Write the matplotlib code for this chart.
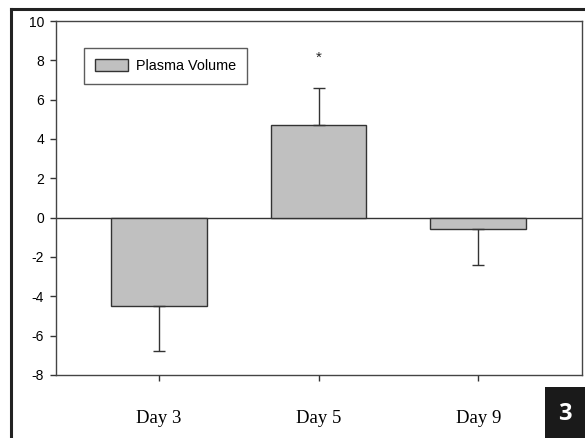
import matplotlib
matplotlib.use("Agg")
import matplotlib.pyplot as plt
from matplotlib.lines import Line2D
from matplotlib.patches import Rectangle

categories = ["Day 3", "Day 5", "Day 9"]
values = [-4.5, 4.7, -0.6]
errors = [2.3, 1.9, 1.8]
yticks = [-8, -6, -4, -2, 0, 2, 4, 6, 8, 10]
legend_label = "Plasma Volume"
sig_marks = ["", "*", ""]
panel_label = "3"

W, H = 585, 438
fig = plt.figure(figsize=(W / 100, H / 100), dpi=100)
ax = fig.add_axes([56 / W, 1 - 375 / H, (582 - 56) / W, (375 - 21) / H])

x = list(range(len(categories)))
ax.bar(x, values, width=0.6, color="#c0c0c0", edgecolor="#333333",
       linewidth=1.0, label=legend_label, zorder=2)
for xi, v, e in zip(x, values, errors):
    sign = 1 if v >= 0 else -1
    ax.errorbar(xi, v, yerr=[[0], [e]] if sign > 0 else [[e], [0]],
                fmt="none", ecolor="#333333", elinewidth=1.0,
                capsize=4.3, capthick=1.0, zorder=3)
for xi, v, e, m in zip(x, values, errors, sig_marks):
    if m:
        ax.text(xi, 7.75, m, ha="center", va="bottom", fontsize=11,
                family="Liberation Sans", color="#222222")

ax.axhline(0, color="#333333", linewidth=1.0, zorder=1)
ax.set_xlim(-0.645, 2.65)
ax.set_ylim(-8, 10)
ax.set_yticks(yticks)
ax.set_yticklabels([str(t) for t in yticks], family="Liberation Sans", fontsize=10)
ax.set_xticks(x)
ax.set_xticklabels(categories, family="Liberation Serif", fontsize=13.5)
ax.tick_params(axis="y", direction="out", length=4.5, width=1, color="#333333", pad=4)
ax.tick_params(axis="x", direction="out", length=4.5, width=1, color="#333333", pad=21)
for s in ax.spines.values():
    s.set_color("#444444")
    s.set_linewidth(1.0)

leg = ax.legend(loc="upper left", bbox_to_anchor=((84 - 56) / 526, (375 - 48) / 354),
                frameon=True, fancybox=False, edgecolor="#333333",
                prop={"family": "Liberation Sans", "size": 10.4},
                handlelength=2.3, handleheight=0.85, borderpad=0.75, handletextpad=0.55,
                borderaxespad=0)
leg.get_frame().set_linewidth(1.0)

# outer figure frame lines (left and top)
fig.add_artist(Line2D([10.5 / W, 10.5 / W], [0, 1 - 8.5 / H], transform=fig.transFigure,
                      color="#222222", linewidth=2.2))
fig.add_artist(Line2D([10.5 / W, 1], [1 - 8.5 / H, 1 - 8.5 / H], transform=fig.transFigure,
                      color="#222222", linewidth=2.2))

# panel number box
fig.add_artist(Rectangle((545 / W, 0), 40 / W, 51 / H, transform=fig.transFigure,
                         facecolor="#1a1a1a", edgecolor="none"))
fig.text(565 / W, 24 / H, panel_label, ha="center", va="center", color="white",
         fontsize=17, fontweight="bold", family="Open Sans")

fig.savefig("out.png", dpi=100)
